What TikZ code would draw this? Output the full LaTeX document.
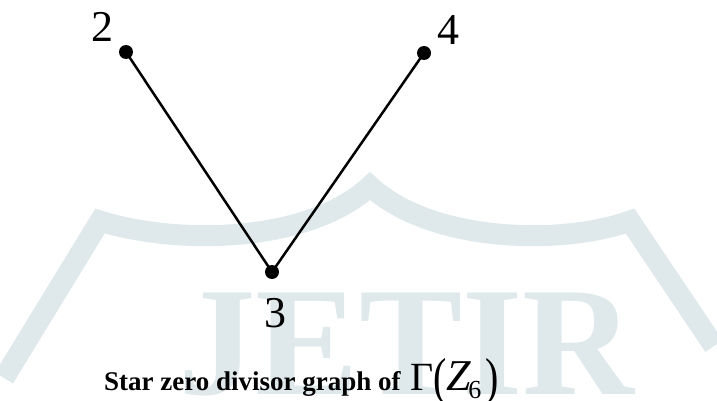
\documentclass[tikz,border=0pt]{standalone}
\usepackage{fontspec}
\setmainfont{Liberation Serif}
\usepackage{graphicx}
\definecolor{wm}{RGB}{223,232,234}
\tikzset{
  vertex/.style={circle, fill=black, inner sep=0pt, minimum size=14pt},
  vlabel/.style={inner sep=0pt, anchor=base, font=\fontsize{44}{44}\selectfont},
  edge/.style={line width=2.5pt, black},
  captext/.style={inner sep=0pt, anchor=base west, font=\bfseries\fontsize{27}{27}\selectfont},
}
\begin{document}
\begin{tikzpicture}[x=1pt, y=-1pt]
\useasboundingbox (0,0) rectangle (717,401);
% watermark
\begin{scope}
\clip (0,0) rectangle (717,401);
\draw[wm, line width=21pt, line join=miter] (4,378) -- (100,221)
  .. controls (180,246) and (310,242) .. (370,186)
  .. controls (430,242) and (560,246) .. (630,221) -- (714,346);
\node[wm, inner sep=0pt, anchor=base west, font=\bfseries\fontsize{155}{155}\selectfont] (wmtext) at (178,394) {JETIR};
\end{scope}
% graph
\node[vertex] (v2) at (126,52) {};
\node[vertex] (v4) at (424,53) {};
\node[vertex] (v3) at (272,272) {};
\draw[edge] (v2.center) -- (v3.center) -- (v4.center);
\node[vlabel] (l2) at (102.5,42) {2};
\node[vlabel] (l4) at (448.5,45) {4};
\node[vlabel] (l3) at (275,327) {3};
\node[captext] (cap) at (104,390) {Star zero divisor graph of};
\node[inner sep=0pt, anchor=base west, font=\fontsize{40}{40}\selectfont] (gam) at (410,390)
  {Γ\raisebox{-4pt}{\scalebox{1}[1.3]{(}}{\fontsize{44}{44}\selectfont\textit{Z}}\kern-3pt\raisebox{-8pt}{\fontsize{26}{26}\selectfont 6}\kern4pt\raisebox{-4pt}{\scalebox{1}[1.3]{)}}};
\end{tikzpicture}
\end{document}
